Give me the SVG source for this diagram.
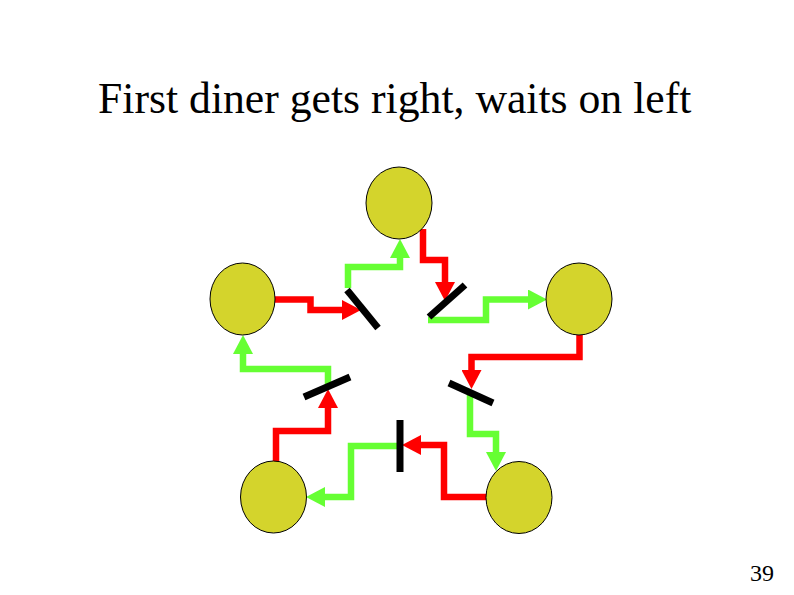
<svg xmlns="http://www.w3.org/2000/svg" width="794" height="595" viewBox="0 0 794 595">
<style>
.title{font-family:"Liberation Serif","Times New Roman",serif;font-size:43.7px;fill:#000}
.pg{font-family:"Liberation Serif","Times New Roman",serif;font-size:24px;fill:#000}
.diner{fill:#D4D42C;stroke:#000;stroke-width:1}
.fork{stroke:#000;stroke-width:7;fill:none}
.red{stroke:#FF0000;stroke-width:6.5;fill:none;stroke-linejoin:miter;marker-end:url(#ar)}
.green{stroke:#66FF33;stroke-width:6.5;fill:none;stroke-linejoin:miter;marker-end:url(#ag)}
</style>
<defs>
<marker id="ar" markerUnits="userSpaceOnUse" viewBox="0 0 19 20" markerWidth="19" markerHeight="20" refX="0" refY="10" orient="auto"><path d="M0,0 L19,10 L0,20 Z" fill="#FF0000"/></marker>
<marker id="ag" markerUnits="userSpaceOnUse" viewBox="0 0 19 20" markerWidth="19" markerHeight="20" refX="0" refY="10" orient="auto"><path d="M0,0 L19,10 L0,20 Z" fill="#66FF33"/></marker>
</defs>
<rect width="794" height="595" fill="#fff"/>
<text class="title" x="98" y="113">First diner gets right, waits on left</text>
<text class="pg" x="750" y="581">39</text>
<g id="connectors">
<path class="red" d="M423,229 V260 H445 V282"/>
<path class="red" d="M275,299.5 H310.5 V310 H342"/>
<path class="red" d="M579.5,335 V357 H471.5 V370"/>
<path class="red" d="M486,497 H444 V445 H421"/>
<path class="red" d="M276,462 V431 H328 V408"/>
<path class="green" d="M348,288 V267 H400 V258"/>
<path class="green" d="M428,320 H486 V299.5 H528"/>
<path class="green" d="M470,395 V434 H496 V452"/>
<path class="green" d="M400,446 H351 V497 H325"/>
<path class="green" d="M328,388 V369 H243 V354"/>
</g>
<g id="fork1"><line class="fork" x1="347" y1="290" x2="378" y2="328"/></g>
<g id="fork2"><line class="fork" x1="429" y1="317" x2="465" y2="285"/></g>
<g id="fork3"><line class="fork" x1="449" y1="383" x2="493" y2="403"/></g>
<g id="fork4"><line class="fork" x1="400" y1="420" x2="400" y2="472"/></g>
<g id="fork5"><line class="fork" x1="304" y1="397" x2="350" y2="377"/></g>
<g id="diner1"><ellipse class="diner" cx="399" cy="203" rx="33" ry="36"/></g>
<g id="diner2"><ellipse class="diner" cx="579" cy="299" rx="33" ry="36"/></g>
<g id="diner3"><ellipse class="diner" cx="519" cy="497.5" rx="33" ry="36"/></g>
<g id="diner4"><ellipse class="diner" cx="273.5" cy="497" rx="33" ry="36"/></g>
<g id="diner5"><ellipse class="diner" cx="242.5" cy="299" rx="32.5" ry="36"/></g>
</svg>
